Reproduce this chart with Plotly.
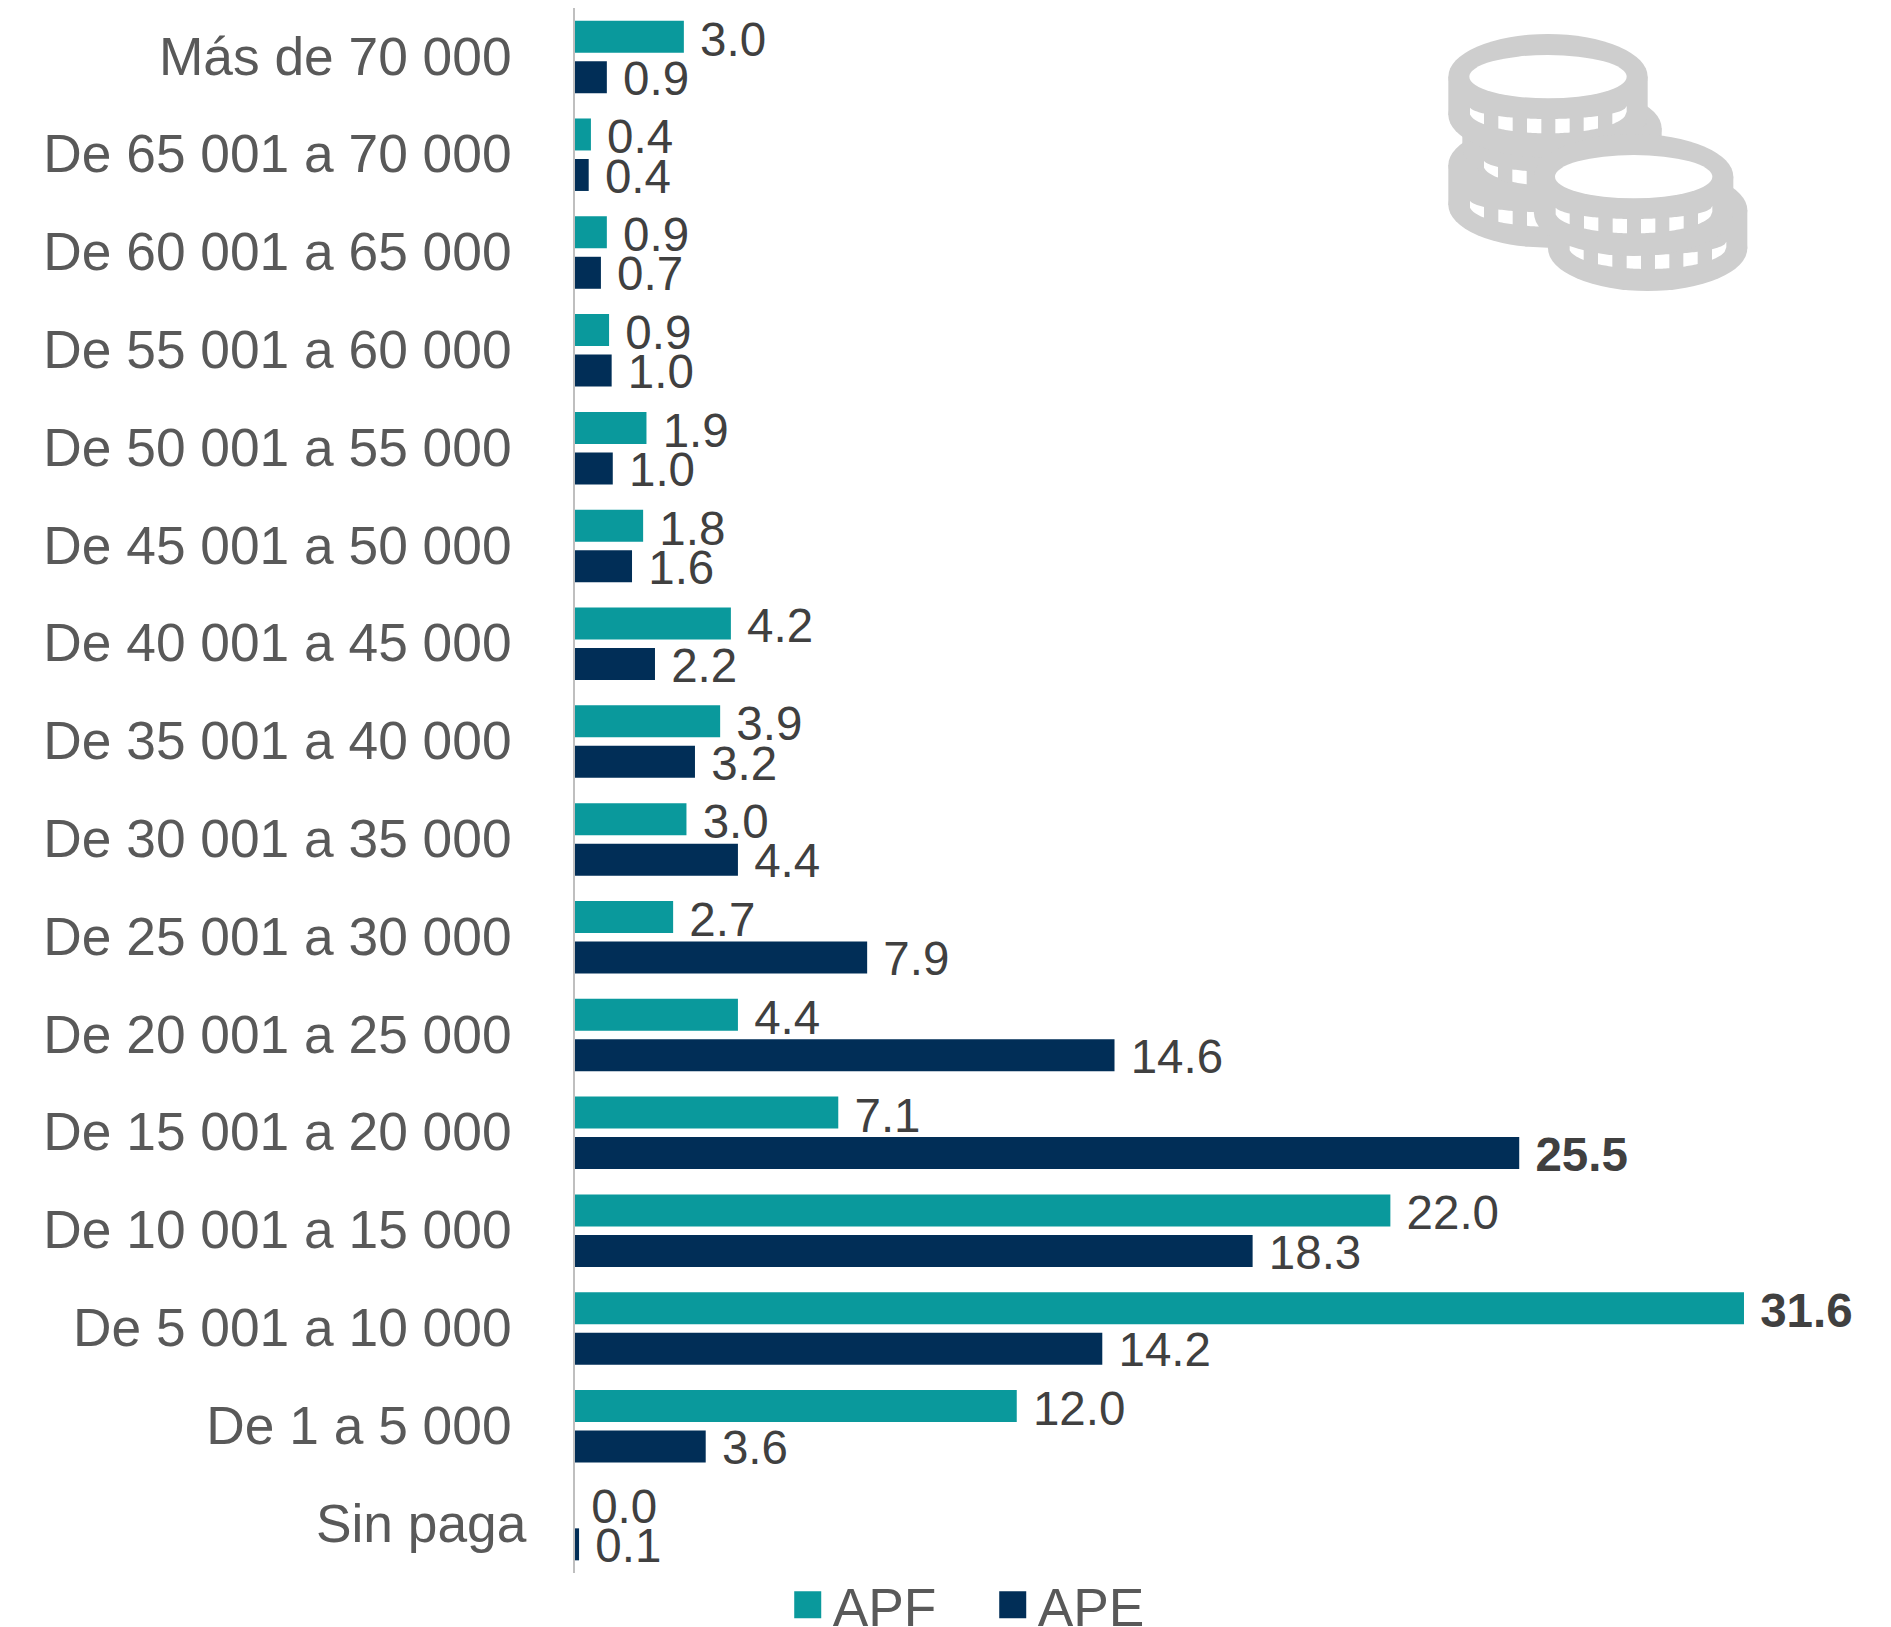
import base64
import math
import plotly.graph_objects as go

categories = ["Más de 70 000", "De 65 001 a 70 000", "De 60 001 a 65 000", "De 55 001 a 60 000",
              "De 50 001 a 55 000", "De 45 001 a 50 000", "De 40 001 a 45 000", "De 35 001 a 40 000",
              "De 30 001 a 35 000", "De 25 001 a 30 000", "De 20 001 a 25 000", "De 15 001 a 20 000",
              "De 10 001 a 15 000", "De 5 001 a 10 000", "De 1 a 5 000", "Sin paga"]
apf_values = [2.94, 0.43, 0.86, 0.92, 1.93, 1.84, 4.21, 3.92, 3.01, 2.65, 4.40, 7.11, 22.02, 31.57, 11.93, 0.0]
ape_values = [0.86, 0.37, 0.70, 0.99, 1.02, 1.54, 2.16, 3.24, 4.40, 7.89, 14.57, 25.5, 18.30, 14.24, 3.53, 0.11]
apf_labels = ["3.0", "0.4", "0.9", "0.9", "1.9", "1.8", "4.2", "3.9", "3.0", "2.7", "4.4", "7.1", "22.0", "<b>31.6</b>", "12.0", "0.0"]
ape_labels = ["0.9", "0.4", "0.7", "1.0", "1.0", "1.6", "2.2", "3.2", "4.4", "7.9", "14.6", "<b>25.5</b>", "18.3", "14.2", "3.6", "0.1"]

W, H = 1891, 1627
ML, MR, MT, MB = 575, 20, 8, 54
FONT = "Liberation Sans, Arial, sans-serif"
TEAL, NAVY = "#0A999C", "#012E57"
NB = "\u00a0"


def icon_svg():
    g = "#CECECE"
    parts = []

    def ell(cx, cy, c):
        return f'<ellipse cx="{cx}" cy="{cy}" rx="299" ry="128" fill="{c}"/>'

    def coin(cx, y0, y1):
        return (ell(cx, y0, g) + ell(cx, y1, g) +
                f'<rect x="{cx-299}" y="{y0}" width="598" height="{y1-y0}" fill="{g}"/>')

    def hole(cx, cy):
        return f'<ellipse cx="{cx}" cy="{cy}" rx="236" ry="65" fill="#fff"/>'

    def windows(cx, shift, spans):
        out = ""
        for a, b in spans:
            n = 8
            xs = [a + (b - a) * i / n for i in range(n + 1)]
            top = [(cx + x, shift + 318 + 39 * math.sqrt(max(0, 1 - (x / 236) ** 2))) for x in xs]
            bot = [(cx + x, shift + 335 + 65 * math.sqrt(max(0, 1 - (x / 236) ** 2))) for x in reversed(xs)]
            pts = " ".join(f"{x:.1f},{y:.1f}" for x, y in top + bot)
            out += f'<polygon points="{pts}" fill="#fff"/>'
        return out

    six = [(-234, -192), (-149, -106), (-63, -20), (22, 65), (107, 150), (193, 236)]
    parts.append(coin(384, 495, 615))
    parts.append(coin(426, 385, 440))
    parts.append(coin(384, 230, 345))
    parts.append(hole(384, 230))
    parts.append(windows(384, 0, six))
    parts.append(windows(426, 160, six[:2]))
    parts.append(windows(384, 280, six[:3]))
    parts.append(coin(683, 630, 745))
    parts.append(windows(683, 407, six))
    parts.append(coin(641, 530, 640))
    parts.append(hole(641, 530))
    parts.append(windows(641, 300, six))
    svg = f'<svg xmlns="http://www.w3.org/2000/svg" viewBox="0 0 1080 930" width="1080" height="930">{"".join(parts)}</svg>'
    return "data:image/svg+xml;base64," + base64.b64encode(svg.encode()).decode()


pw, ph = W - ML - MR, H - MT - MB

fig = go.Figure()
for name, vals, labs, col in [("APF", apf_values, apf_labels, TEAL), ("APE", ape_values, ape_labels, NAVY)]:
    fig.add_trace(go.Bar(
        name=name, y=[c + NB if c != "Sin paga" else c for c in categories], x=vals, orientation="h",
        marker=dict(color=col, line=dict(width=0)),
        text=[NB + t for t in labs], textposition="outside", textangle=0, cliponaxis=False,
        constraintext="none", textfont=dict(family=FONT, size=47.5, color="#404040"),
    ))

fig.update_layout(
    width=W, height=H, margin=dict(l=ML, r=MR, t=MT, b=MB, autoexpand=False),
    paper_bgcolor="white", plot_bgcolor="white",
    barmode="group", bargap=0.172, bargroupgap=0.21,
    font=dict(family=FONT, size=53.3, color="#595959"),
    xaxis=dict(range=[0, 35], visible=False, showgrid=False, zeroline=False),
    yaxis=dict(autorange="reversed", type="category", showgrid=False, zeroline=False,
               showline=True, linecolor="#BFBFBF", linewidth=2, ticks="",
               ticklabelstandoff=36, tickfont=dict(family=FONT, size=53.3, color="#595959")),
    legend=dict(orientation="h", x=0.168, xanchor="left", y=0.006, yanchor="top",
                font=dict(family=FONT, size=53.3, color="#595959"),
                itemclick=False, itemdoubleclick=False, bgcolor="rgba(0,0,0,0)",
                traceorder="normal", entrywidth=160, entrywidthmode="pixels"),
    images=[dict(source=icon_svg(), xref="paper", yref="paper",
                 x=(1420 - ML) / pw, y=1 + MT / ph, sizex=360 / pw, sizey=310 / ph,
                 xanchor="left", yanchor="top", sizing="stretch", layer="above")],
)

post = """
document.body.style.margin='0';
document.querySelectorAll('.legend .legendpoints path').forEach(function(p){
  p.setAttribute('d','M8.5,13.5H-18.5V-13.5H8.5Z');
});
document.querySelectorAll('.barlayer .trace').forEach(function(tr,i){
  tr.querySelectorAll('text').forEach(function(t){ t.setAttribute('dy', i===0 ? '2.4' : '1.2'); });
});
document.querySelectorAll('.ytick text').forEach(function(t){ t.setAttribute('dy','-1'); });
"""
fig.write_html("out.html", post_script=post, config={"displayModeBar": False})
